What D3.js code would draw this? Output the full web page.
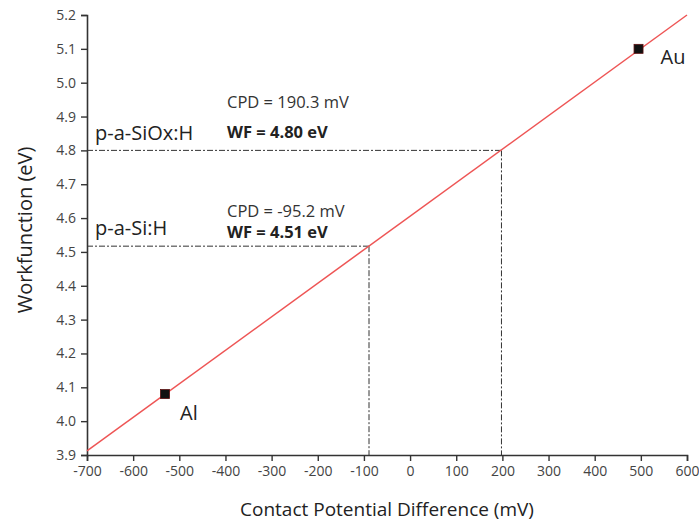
<!DOCTYPE html>
<html>
<head>
<meta charset="utf-8">
<script src="https://cdn.jsdelivr.net/npm/d3@7"></script>
<style>
  body { margin: 0; background: #fff; }
  text { font-family: "Open Sans", sans-serif; }
</style>
</head>
<body>
<svg width="699" height="526"></svg>
<script>
const width = 699, height = 526
const margin = {left: 87, right: 12, top: 15, bottom: 71}

// data
const metals = ['Au', 'Al']
const metalCPD = [495, -531]
const metalWF = [5.10, 4.08]
const fitCPD = [-700, 600]
const fitWF = [3.912, 5.2]
const samples = ['p-a-SiOx:H', 'p-a-Si:H']
const sampleCPD = [198, -89]
const sampleWF = [4.80, 4.517]
const cpdText = ['CPD = 190.3 mV', 'CPD = -95.2 mV']
const wfText = ['WF = 4.80 eV', 'WF = 4.51 eV']
const xTicks = d3.range(-700, 601, 100)
const yTicks = d3.range(3.9, 5.201, 0.1)

const svg = d3.select('svg')

const x = d3.scaleLinear().domain([-700, 600]).range([margin.left, width - margin.right])
const y = d3.scaleLinear().domain([3.9, 5.2]).range([height - margin.bottom, margin.top])

const axisColor = '#333'

// minor + major ticks
const gx = svg.append('g').attr('transform', 'translate(0,' + y(3.9) + ')')
gx.call(d3.axisBottom(x).tickValues(d3.range(-650, 600, 100)).tickSize(3).tickFormat(''))
gx.call(d3.axisBottom(x).tickValues(xTicks).tickSize(6).tickPadding(5).tickFormat(d => String(d)))
const gy = svg.append('g').attr('transform', 'translate(' + x(-700) + ',0)')
gy.call(d3.axisLeft(y).tickValues(d3.range(3.95, 5.2, 0.1)).tickSize(3).tickFormat(''))
gy.call(d3.axisLeft(y).tickValues(yTicks).tickSize(6).tickPadding(5).tickFormat(d3.format('.1f')))

svg.selectAll('.domain').attr('stroke', axisColor).attr('stroke-width', 1.6)
svg.selectAll('.tick line').attr('stroke', axisColor).attr('stroke-width', 1.4)
svg.selectAll('.tick text').attr('fill', '#444').style('font-size', '14px').style('font-family', '"Open Sans", sans-serif')

// drop lines
const dash = '6,2,2,2'
samples.forEach((s, i) => {
  svg.append('line')
    .attr('x1', x(-700)).attr('x2', x(sampleCPD[i]))
    .attr('y1', y(sampleWF[i])).attr('y2', y(sampleWF[i]))
    .attr('stroke', '#333').attr('stroke-width', 1).attr('stroke-dasharray', dash)
  svg.append('line')
    .attr('x1', x(sampleCPD[i])).attr('x2', x(sampleCPD[i]))
    .attr('y1', y(sampleWF[i])).attr('y2', y(3.9))
    .attr('stroke', '#333').attr('stroke-width', 1).attr('stroke-dasharray', dash)
})

// linear fit
svg.append('path')
  .datum(fitCPD.map((c, i) => [c, fitWF[i]]))
  .attr('d', d3.line().x(d => x(d[0])).y(d => y(d[1])))
  .attr('fill', 'none')
  .attr('stroke', '#ee5555')
  .attr('stroke-width', 1.5)

// reference metals
svg.selectAll('rect.metal')
  .data(metals)
  .enter()
  .append('rect')
  .attr('class', 'metal')
  .attr('x', (d, i) => x(metalCPD[i]) - 4.5)
  .attr('y', (d, i) => y(metalWF[i]) - 4.5)
  .attr('width', 9).attr('height', 9)
  .attr('fill', '#111')
  .attr('stroke', '#5a1010').attr('stroke-width', 0.8)

svg.selectAll('text.metal')
  .data(metals)
  .enter()
  .append('text')
  .attr('class', 'metal')
  .attr('x', (d, i) => x(metalCPD[i]) + (i === 0 ? 22 : 15))
  .attr('y', (d, i) => y(metalWF[i]) + (i === 0 ? 15 : 26))
  .style('font-size', '20px')
  .attr('fill', '#222')
  .text(d => d)

// sample labels
const labelDy = [-10, -11]
const cpdDy = [-42, -29]
const wfDy = [-12, -8]
samples.forEach((s, i) => {
  svg.append('text')
    .attr('x', x(-700) + 8)
    .attr('y', y(sampleWF[i]) + labelDy[i])
    .style('font-size', '20px')
    .attr('fill', '#222')
    .text(s)
  svg.append('text')
    .attr('x', 227)
    .attr('y', y(sampleWF[i]) + cpdDy[i])
    .style('font-size', '16.5px')
    .attr('fill', '#333')
    .text(cpdText[i])
  svg.append('text')
    .attr('x', 227)
    .attr('y', y(sampleWF[i]) + wfDy[i])
    .style('font-size', '16.5px')
    .style('font-weight', 'bold')
    .attr('fill', '#222')
    .text(wfText[i])
})

// axis titles
svg.append('text')
  .attr('x', (x(-700) + x(600)) / 2)
  .attr('y', 516)
  .attr('text-anchor', 'middle')
  .style('font-size', '19px')
  .attr('fill', '#222')
  .text('Contact Potential Difference (mV)')

svg.append('text')
  .attr('transform', 'translate(32,230) rotate(-90)')
  .attr('text-anchor', 'middle')
  .style('font-size', '20px')
  .attr('fill', '#222')
  .text('Workfunction (eV)')
</script>
</body>
</html>
